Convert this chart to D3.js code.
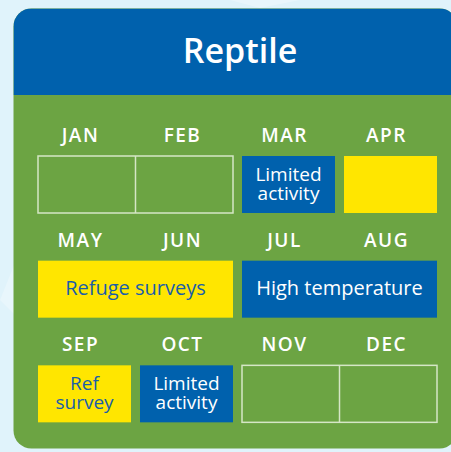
<!DOCTYPE html>
<html>
<head>
<meta charset="utf-8">
<script src="https://cdn.jsdelivr.net/npm/d3@7"></script>
<style>
  html, body { margin: 0; padding: 0; background: #e0f3fb; }
  svg { display: block; }
</style>
</head>
<body>
<div id="chart"></div>
<script>
// Calendar data
const title = "Reptile";
const months = ["JAN", "FEB", "MAR", "APR", "MAY", "JUN", "JUL", "AUG", "SEP", "OCT", "NOV", "DEC"];
// each block: first month index, number of months, label lines, kind
const blockStart = [0, 2, 3, 4, 6, 8, 9, 10];
const blockSpan  = [2, 1, 1, 2, 2, 1, 1, 2];
const blockLabel = [[], ["Limited", "activity"], [], ["Refuge surveys"], ["High temperature"], ["Ref", "survey"], ["Limited", "activity"], []];
const blockKind  = ["none", "limited", "survey", "survey", "limited", "survey", "limited", "none"];

const W = 451, H = 452;
const colors = { limited: "#0061ad", survey: "#ffe600", green: "#6ca443", bg: "#e0f3fb" };
const font = "'Open Sans', 'DejaVu Sans', sans-serif";

const svg = d3.select("#chart").append("svg")
  .attr("width", W)
  .attr("height", H);

// faint background shapes
svg.append("path")
  .attr("d", "M0,300 L60,150 L90,160 L30,330 Z")
  .attr("fill", "#ffffff")
  .attr("opacity", 0.25);
svg.append("path")
  .attr("d", "M230,0 L300,0 L260,8 Z")
  .attr("fill", "#ffffff")
  .attr("opacity", 0.3);

// card
const card = { x: 13.5, y: 8.5, w: 444, h: 440, r: 18 };
svg.append("rect")
  .attr("x", card.x).attr("y", card.y)
  .attr("width", card.w).attr("height", card.h)
  .attr("rx", card.r)
  .attr("fill", colors.green);

// header clipped to the card top
svg.append("clipPath").attr("id", "cardClip")
  .append("rect")
  .attr("x", card.x).attr("y", card.y)
  .attr("width", card.w).attr("height", card.h)
  .attr("rx", card.r);
svg.append("rect")
  .attr("clip-path", "url(#cardClip)")
  .attr("x", card.x).attr("y", card.y)
  .attr("width", card.w).attr("height", 86.5)
  .attr("fill", colors.limited);

svg.append("text")
  .attr("x", 240)
  .attr("y", 63)
  .attr("text-anchor", "middle")
  .style("font-family", font)
  .style("font-size", "34px")
  .style("font-weight", "600")
  .style("fill", "#ffffff")
  .text(title);

// scales: 4 columns x 3 rows
const x = d3.scaleBand()
  .domain([0, 1, 2, 3])
  .range([38, 437])
  .paddingInner(9 / 102)
  .paddingOuter(0);

const y = d3.scaleBand()
  .domain([0, 1, 2])
  .range([119, 433]);

const boxTop = 37, boxH = 57;

// month labels
svg.selectAll(".month")
  .data(months)
  .enter()
  .append("text")
  .attr("class", "month")
  .attr("x", (d, i) => x(i % 4) + x.bandwidth() / 2)
  .attr("dx", -4)
  .attr("y", (d, i) => y(Math.floor(i / 4)) + 23)
  .attr("text-anchor", "middle")
  .style("font-family", font)
  .style("font-size", "19px")
  .style("font-weight", "600")
  .style("letter-spacing", "1.5px")
  .style("fill", "#ffffff")
  .text(d => d);

// blocks
const blocks = blockStart.map((s, i) => ({
  start: s,
  span: blockSpan[i],
  label: blockLabel[i],
  kind: blockKind[i]
}));

const g = svg.selectAll(".block")
  .data(blocks)
  .enter()
  .append("g")
  .attr("class", "block")
  .attr("transform", d => `translate(${x(d.start % 4)},${y(Math.floor(d.start / 4)) + boxTop})`);

const blockW = d => x((d.start % 4) + d.span - 1) + x.bandwidth() - x(d.start % 4);

g.append("rect")
  .attr("width", blockW)
  .attr("height", boxH)
  .attr("fill", d => d.kind === "none" ? "none" : colors[d.kind])
  .attr("stroke", d => d.kind === "none" ? "#d5e6c6" : "none")
  .attr("stroke-width", 1.5);

// divider inside empty multi-month boxes
g.filter(d => d.kind === "none" && d.span > 1)
  .append("line")
  .attr("x1", d => blockW(d) / 2)
  .attr("x2", d => blockW(d) / 2)
  .attr("y1", 0)
  .attr("y2", boxH)
  .attr("stroke", "#d5e6c6")
  .attr("stroke-width", 1.5);

// labels: one text element per block, lines as tspans
g.filter(d => d.label.length > 0)
  .append("text")
  .attr("text-anchor", "middle")
  .style("font-family", font)
  .style("font-size", d => d.label.length > 1 ? "19px" : "20px")
  .style("font-weight", "500")
  .style("fill", d => d.kind === "survey" ? "#1a5ea9" : "#ffffff")
  .each(function(d) {
    const n = d.label.length;
    const lh = 19;
    d3.select(this).selectAll("tspan")
      .data(d.label)
      .enter()
      .append("tspan")
      .attr("x", blockW(d) / 2)
      .attr("y", (t, i) => boxH / 2 + 5.5 + (i - (n - 1) / 2) * lh)
      .text(t => t);
  });
</script>
</body>
</html>
